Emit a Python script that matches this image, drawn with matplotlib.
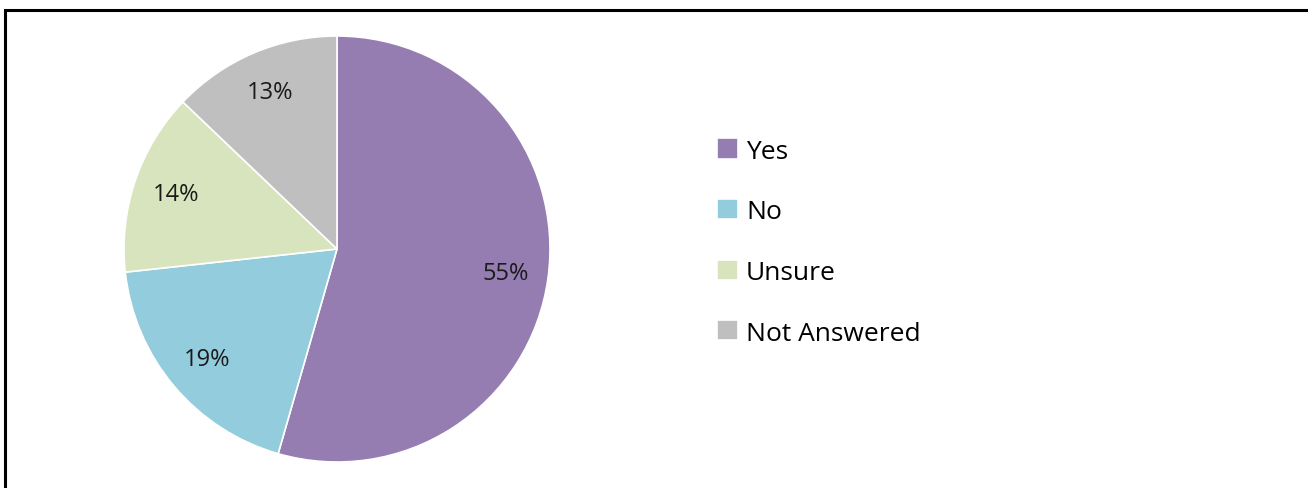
import matplotlib
matplotlib.use("Agg")
import matplotlib.pyplot as plt
from matplotlib.lines import Line2D

categories = ["Yes", "No", "Unsure", "Not Answered"]
values = [55, 19, 14, 13]
labels = ["55%", "19%", "14%", "13%"]
colors = ["#957DB2", "#93CDDD", "#D8E4BD", "#BFBFBF"]

plt.rcParams['font.family'] = ['Open Sans', 'DejaVu Sans']

W, H = 1308, 489
fig = plt.figure(figsize=(W / 100, H / 100), dpi=100)

cx, cy, r = 337, 250, 213
ax = fig.add_axes([(cx - r) / W, (H - cy - r) / H, 2 * r / W, 2 * r / H])
wedges, texts = ax.pie(values, colors=colors, startangle=90, counterclock=False,
                       labels=labels, labeldistance=0.8,
                       textprops=dict(fontsize=17, color="#1a1a1a"),
                       wedgeprops=dict(linewidth=1.2, edgecolor="white"))
for t in texts:
    t.set_horizontalalignment("center")
    t.set_verticalalignment("center")
ax.set_xlim(-1, 1)
ax.set_ylim(-1, 1)
ax.set_aspect("equal")
ax.axis("off")

fig.legend(wedges, categories, loc="center left",
           bbox_to_anchor=(717 / W, 1 - 243 / H), frameon=False,
           fontsize=19, handlelength=0.8, handleheight=0.8,
           handletextpad=0.3, labelspacing=1.34, borderpad=0, borderaxespad=0)

# outer border (only top and left edges visible in the crop)
top = 1 - 11 / H
fig.add_artist(Line2D([5 / W, 5 / W, 1.0], [-0.01, top, top], transform=fig.transFigure,
                      color="black", linewidth=2.2, solid_joinstyle="miter"))

fig.savefig("out.png", dpi=100)
